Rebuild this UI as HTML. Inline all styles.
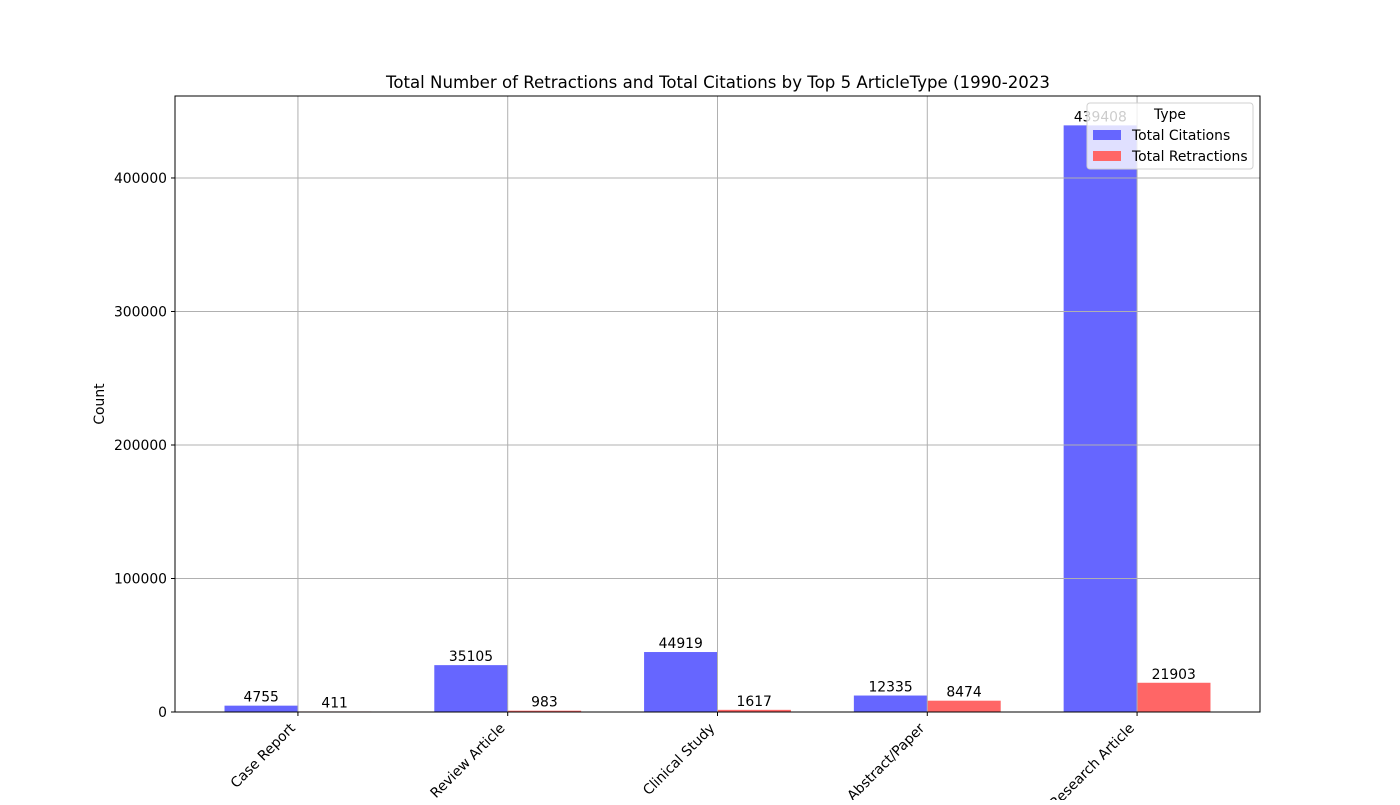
<!DOCTYPE html>
<html><head><meta charset="utf-8"><style>body{margin:0;background:#fff}svg{font-family:"DejaVu Sans","Liberation Sans",sans-serif}</style></head>
<body>
<svg id="chart" width="1400" height="800"></svg>
<script>
const categories=["Case Report","Review Article","Clinical Study","Abstract/Paper","Research Article"];
const citations=[4755,35105,44919,12335,439408];
const retractions=[411,983,1617,8474,21903];
const yTicks=[0,100000,200000,300000,400000];
const NS="http://www.w3.org/2000/svg";
const svg=document.getElementById('chart');
const L=175,R=1260,T=96,B=712;
const yMax=461400;
const y=v=>B-(v/yMax)*(B-T);
const step=(R-L)/(categories.length-1+2*0.586);
const x=i=>L+step*(0.586+i);
const bw=step*0.35;
function el(t,a,txt){const e=document.createElementNS(NS,t);for(const k in a)e.setAttribute(k,a[k]);if(txt!==undefined)e.textContent=txt;svg.appendChild(e);return e;}
let e=el('text',{x:718,y:88,'font-size':16.6,'text-anchor':'middle'},'Total Number of Retractions and Total Citations by Top 5 ArticleType (1990-2023');


e=el('text',{x:104,y:404,'font-size':13.9,'text-anchor':'middle',transform:'rotate(-90 104 404)'},'Count');


categories.forEach((c,i)=>{
 let b=el('rect',{x:x(i)-bw,y:y(citations[i]),width:bw,height:B-y(citations[i]),fill:'#6666ff'});
 
 
 b=el('rect',{x:x(i),y:y(retractions[i]),width:bw,height:Math.max(B-y(retractions[i]),0.8),fill:'#ff6666'});
 
 
});
yTicks.forEach(v=>{
 let g=el('line',{x1:L,x2:R,y1:y(v),y2:y(v),stroke:'#b0b0b0','stroke-width':1});
 
 
 el('line',{x1:L-4,x2:L,y1:y(v),y2:y(v),stroke:'#000'});
 let t=el('text',{x:L-8,y:y(v)+5,'font-size':13.9,'text-anchor':'end'},String(v));
 
 
});
categories.forEach((c,i)=>{
 let g=el('line',{x1:x(i),x2:x(i),y1:T,y2:B,stroke:'#b0b0b0','stroke-width':1});
 
 
 el('line',{x1:x(i),x2:x(i),y1:B,y2:B+4,stroke:'#000'});
 let ax=x(i)-2, ay=B+17;
 let t=el('text',{x:ax,y:ay,'font-size':13.9,'text-anchor':'end',transform:`rotate(-45 ${ax} ${ay})`},c);
 
 
 t=el('text',{x:x(i)-bw/2,y:y(citations[i])-4,'font-size':13.9,'text-anchor':'middle'},String(citations[i]));
 
 
 t=el('text',{x:x(i)+bw/2,y:y(retractions[i])-4,'font-size':13.9,'text-anchor':'middle'},String(retractions[i]));
 
 
});
e=el('rect',{x:L,y:T,width:R-L,height:B-T,fill:'none',stroke:'#000','stroke-width':1});


const lg=el('rect',{x:1087,y:103,width:166,height:66,rx:3,fill:'rgba(255,255,255,0.8)',stroke:'#d0d0d0'});


e=el('text',{x:1170,y:119,'font-size':13.9,'text-anchor':'middle'},'Type');


[['Total Citations','#6666ff',135],['Total Retractions','#ff6666',156]].forEach(([n,c,yy])=>{
 let r=el('rect',{x:1093,y:yy-5,width:28,height:10,fill:c});
 
 
 let t=el('text',{x:1132,y:yy+5,'font-size':13.9},n);
 
 
});
</script>
</body></html>
